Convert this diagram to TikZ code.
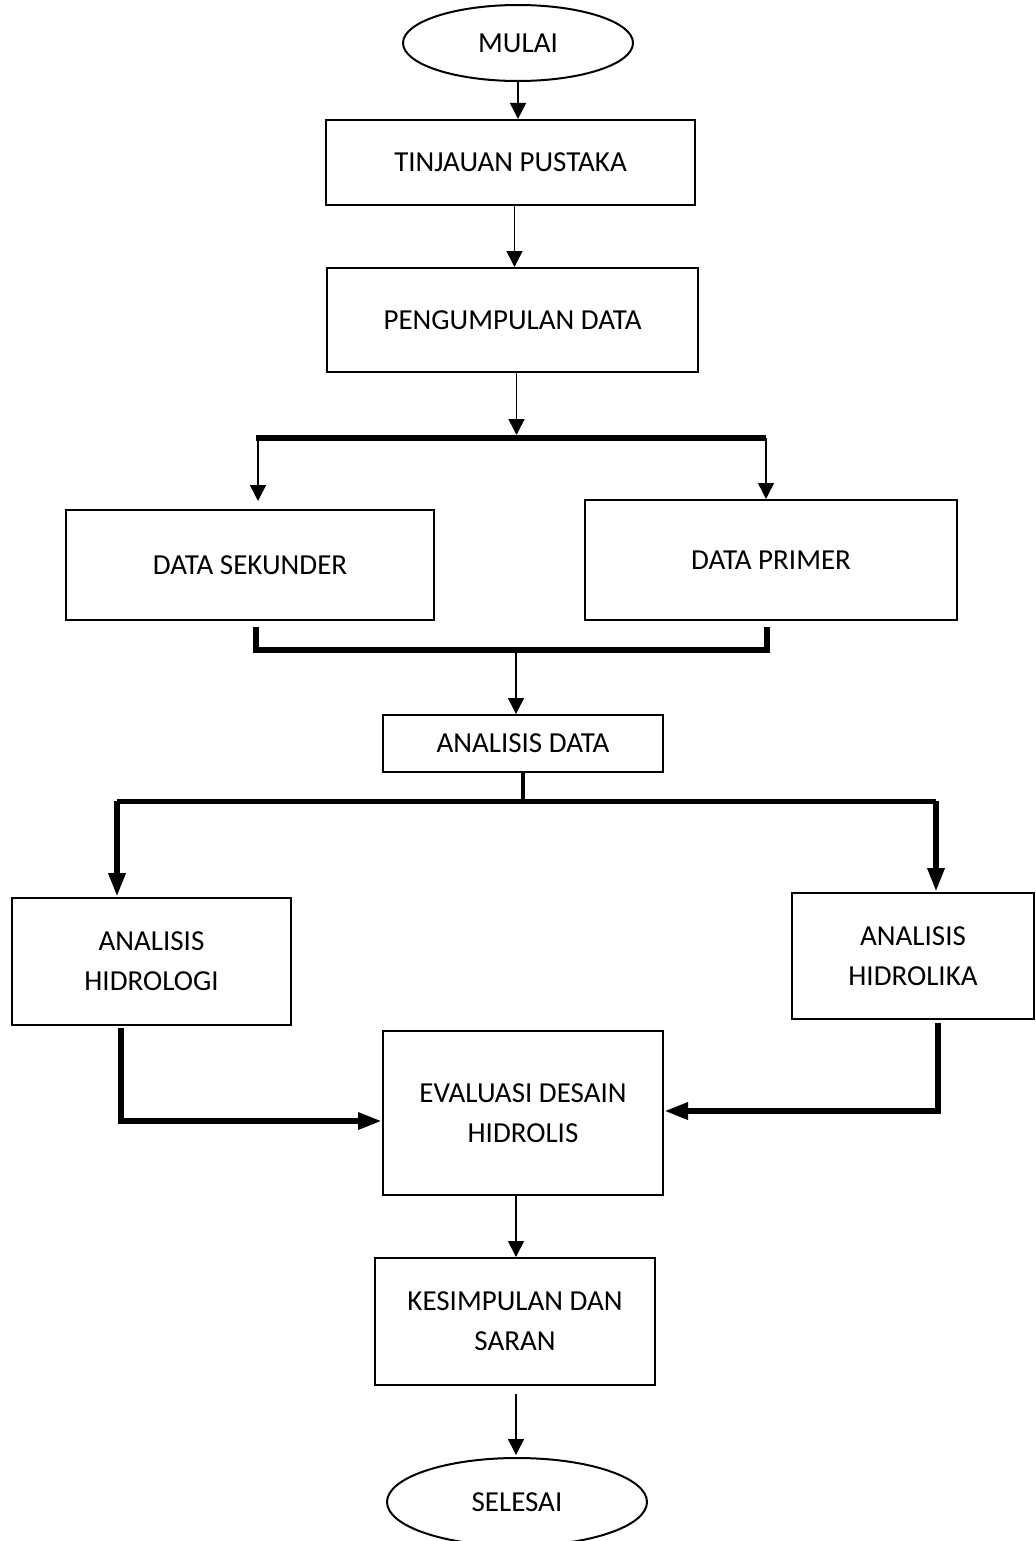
\documentclass[tikz,border=0pt]{standalone}
\usepackage{fontspec}
\setmainfont{Carlito}
\usetikzlibrary{arrows.meta,shapes.geometric,calc}

\begin{document}
\begin{tikzpicture}[x=0.5pt, y=-0.5pt,
    font=\fontsize{14.5}{20}\selectfont,
    kotak/.style = {draw, line width=1pt, rectangle, align=center, inner sep=0pt},
    oval/.style  = {draw, line width=1pt, ellipse, inner sep=0pt},
    tipis/.style = {line width=0.75pt, -{Triangle[width=8pt,length=8pt]}},
    tebal/.style = {line width=3pt, -{Triangle[width=8pt,length=12pt]}},
    batang/.style = {line width=3pt}
    ]
    \useasboundingbox (0,0) rectangle (1035,1541);

    % simpul
    \node[oval, minimum width=115pt, minimum height=38pt] (mulai) at (518,43) {MULAI};
    \node[kotak, minimum width=184.5pt, minimum height=42.5pt] (tinjauan) at (510.5,162.5) {TINJAUAN PUSTAKA};
    \node[kotak, minimum width=185.5pt, minimum height=52pt] (kumpul) at (512.5,320) {PENGUMPULAN DATA};
    \node[kotak, minimum width=184pt, minimum height=55pt] (sekunder) at (250,565) {DATA SEKUNDER};
    \node[kotak, minimum width=186pt, minimum height=60pt] (primer) at (771,560) {DATA PRIMER};
    \node[kotak, minimum width=140pt, minimum height=28.5pt] (analisis) at (523,743.5) {ANALISIS DATA};
    \node[kotak, minimum width=139.5pt, minimum height=63.5pt] (hidrologi) at (151.5,961.5) {ANALISIS\\HIDROLOGI};
    \node[kotak, minimum width=121pt, minimum height=63pt] (hidrolika) at (913,956) {ANALISIS\\HIDROLIKA};
    \node[kotak, minimum width=140pt, minimum height=82pt] (evaluasi) at (523,1113) {EVALUASI DESAIN\\HIDROLIS};
    \node[kotak, minimum width=140pt, minimum height=63.5pt] (simpul) at (515,1321.5) {KESIMPULAN DAN\\SARAN};
    \node[oval, minimum width=130pt, minimum height=44pt] (selesai) at (517,1502) {SELESAI};

    % titik bantu
    \coordinate (b1l) at (256,438);
    \coordinate (b1r) at (766,438);
    \coordinate (k1l) at (256,627);
    \coordinate (k1r) at (767,627);
    \coordinate (k1t) at (516,650);
    \coordinate (b2l) at (117,801);
    \coordinate (b2r) at (936,801);
    \coordinate (b2t) at (523,801);
    \coordinate (hl) at (121,1121);
    \coordinate (hr) at (938,1111);

    % garis
    \draw[tipis] (mulai.south) -- (mulai.south |- tinjauan.north);
    \draw[tipis] ($(tinjauan.south)+(4,0)$) -- ($(tinjauan.south |- kumpul.north)+(4,0)$);
    \draw[tipis] ($(kumpul.south)+(4,0)$) -- ($(kumpul.south |- b1l)+(4,-3)$);
    \draw[batang] (b1l) -- (b1r);
    \draw[tipis] ($(b1l)+(2,0)$) -- ($(b1l |- sekunder.north)+(2,-8)$);
    \draw[tipis] (b1r) -- (b1r |- primer.north);
    \draw[batang] (k1l) -- (k1l |- k1t) -- (k1r |- k1t) -- (k1r);
    \draw[tipis] (k1t) -- (k1t |- analisis.north);
    \draw[line width=2pt] (analisis.south) -- (b2t);
    \draw[line width=2.5pt] (b2l) -- (b2r);
    \draw[tebal] (b2l) -- (b2l |- hidrologi.north);
    \draw[tebal] (b2r) -- (b2r |- hidrolika.north);
    \draw[tebal] ($(hidrologi.south -| hl)+(0,2)$) -- (hl) -- (hl -| evaluasi.west);
    \draw[tebal] ($(hidrolika.south -| hr)+(0,3)$) -- (hr) -- (hr -| evaluasi.east);
    \draw[tipis] ($(evaluasi.south)+(-7,0)$) -- ($(evaluasi.south |- simpul.north)+(-7,0)$);
    \draw[tipis] ($(simpul.south)+(1,8)$) -- ($(simpul.south |- selesai.north)+(1,-2)$);
\end{tikzpicture}
\end{document}
